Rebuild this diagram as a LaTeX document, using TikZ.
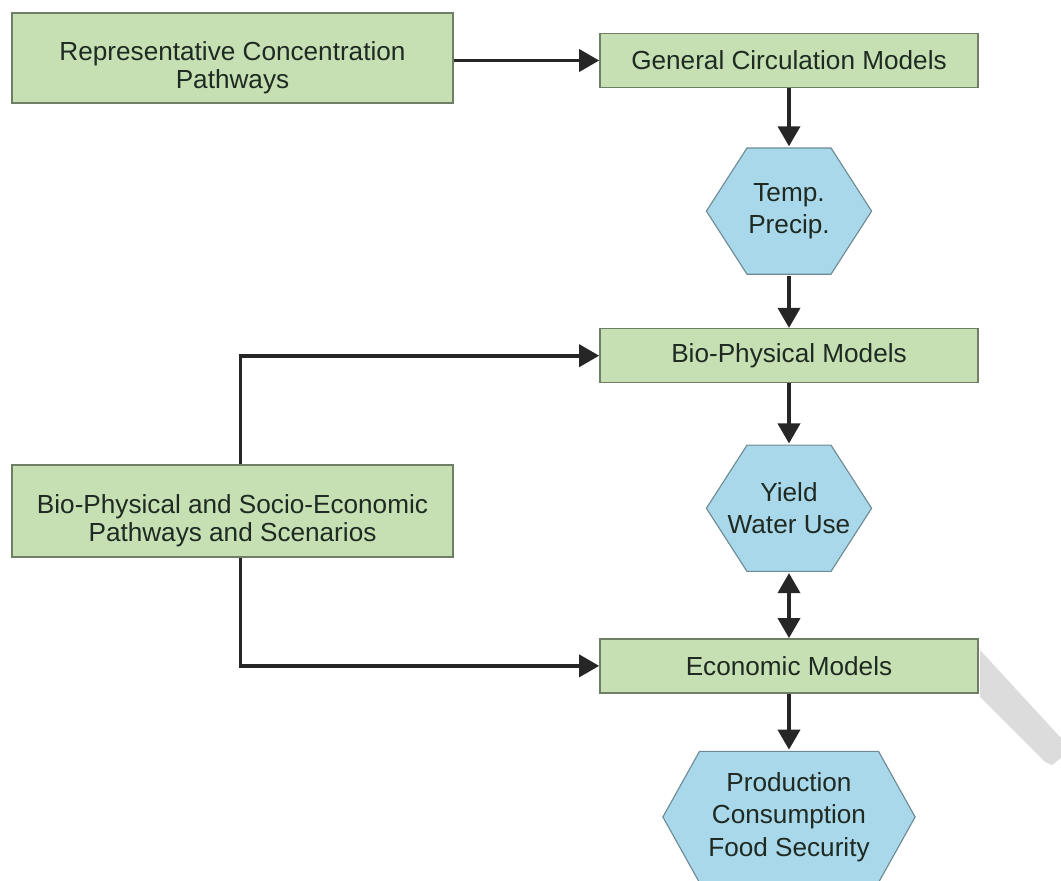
\documentclass[tikz,border=0pt]{standalone}
\usepackage{fontspec}
\setmainfont{Liberation Sans}
\usetikzlibrary{calc,positioning,arrows.meta}

\definecolor{boxgreen}{HTML}{C6E0B4}
\definecolor{boxedge}{HTML}{6F7F66}
\definecolor{hexblue}{HTML}{A8D8EA}
\definecolor{hexedge}{HTML}{6E8A94}
\definecolor{txt}{HTML}{1F2A22}
\definecolor{linedark}{HTML}{262626}
\definecolor{wmark}{HTML}{DCDCDC}

\begin{document}
\begin{tikzpicture}[x=0.025cm, y=-0.025cm, node distance = 1.5cm,
	>={Triangle[length=0.5cm, width=0.55cm]},
	model/.style={draw=boxedge, fill=boxgreen, line width=1.1pt, text=txt, align=center,
		minimum width=9.45cm, minimum height=1.35cm, inner sep=0pt,
		font=\fontsize{18.6}{19.5}\selectfont},
	scen/.style={model, minimum width=11.025cm, minimum height=2.25cm,
		text height=1.5cm, text depth=0cm},
	hexa/.style={rectangle, text=txt, align=center, minimum width=4.2cm,
		minimum height=3.225cm, inner sep=0pt, font=\fontsize{18.6}{23}\selectfont,
		path picture={
			\draw[hexedge, fill=hexblue, line width=0.8pt]
				($(path picture bounding box.west)+(1pt,0)$)
				-- ($(path picture bounding box.north west)+(#1,-1pt)$)
				-- ($(path picture bounding box.north east)+(-#1,-1pt)$)
				-- ($(path picture bounding box.east)+(-1pt,0)$)
				-- ($(path picture bounding box.south east)+(-#1,1pt)$)
				-- ($(path picture bounding box.south west)+(#1,1pt)$) -- cycle;
		}},
	hexa/.default=1.05cm,
	arr/.style={draw=linedark, line width=2.6pt, ->},
	dbl/.style={arr, <->}]
\def\elbow{0.2cm};
\useasboundingbox (0,0) rectangle (1061,881);

% faint mark at the right edge
\fill[wmark] (980,650) -- (1061,738) -- (1061,758) -- (1052,765) -- (1045,762) -- (980,697) -- cycle;

\node[scen] (rcp) at (232.5,58) {Representative Concentration\\Pathways};
\node[model] (gcm) at (789,60.5) {General Circulation Models};

\node[hexa, below=1.45cm of gcm] (temp) {Temp.\\Precip.};
\node[model, below=1.3cm of temp] (bio) {Bio-Physical Models};
\node[hexa, below=1.5cm of bio] (yield) {Yield\\Water Use};
\node[model, below=1.625cm of yield] (econ) {Economic Models};
\node[hexa=0.95cm, minimum width=6.375cm, minimum height=3.35cm,
	below=1.4cm of econ] (prod) {Production\\Consumption\\Food Security};

\node[scen, minimum height=2.3cm] (bpse) at (232.5,511) {Bio-Physical and Socio-Economic\\Pathways and Scenarios};

\draw[arr] (rcp.east |- gcm.west) -- (gcm.west);
\draw[arr] (gcm) -- (temp);
\draw[arr] (temp) -- (bio);
\draw[arr] (bio) -- (yield);
\draw[dbl] (yield) -- (econ);
\draw[arr] (econ) -- (prod);

\coordinate (bpse up) at ([xshift=\elbow]bpse.north);
\coordinate (bpse dn) at ([xshift=\elbow]bpse.south);
\draw[arr] (bpse up) |- (bio);
\draw[arr] (bpse dn) |- (econ);

\end{tikzpicture}
\end{document}
